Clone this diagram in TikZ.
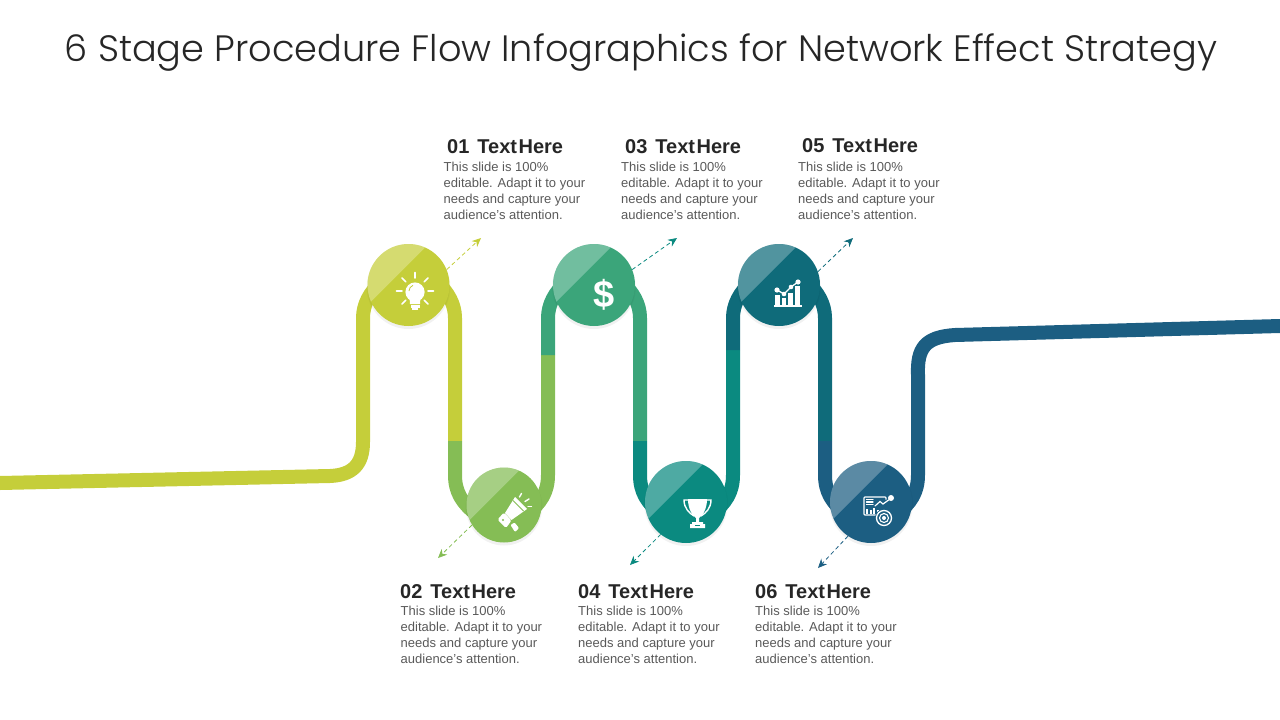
\documentclass[tikz,border=0pt]{standalone}
\usepackage{fontspec}
\setmainfont{Liberation Sans}
\newfontfamily\ttlfont{Poppins Light}
\usetikzlibrary{arrows.meta}
\definecolor{cA}{HTML}{C5CE3A}
\definecolor{cB}{HTML}{85BD55}
\definecolor{cC}{HTML}{3BA57A}
\definecolor{cD}{HTML}{0B8A80}
\definecolor{cE}{HTML}{0F6B7A}
\definecolor{cF}{HTML}{1C5E82}
\definecolor{txtdark}{HTML}{262626}
\definecolor{txtbody}{HTML}{595959}
\tikzset{
 x=1pt,y=-1pt,
 band/.style={line width=14pt,line cap=butt,line join=round},
 disc/.style={circle,minimum size=82pt,inner sep=0pt,fill=#1},
 head/.style={anchor=west,inner sep=0pt,font=\fontsize{20}{20}\selectfont\bfseries,text=txtdark},
 bodytxt/.style={anchor=north west,inner sep=0pt,align=left,text=txtbody,font=\fontsize{13}{16}\selectfont},
 titletxt/.style={inner sep=0pt,font=\fontsize{36.7}{40}\selectfont\ttlfont,text=txtdark},
 leader/.style={dash pattern=on 4pt off 3pt,line width=.8pt,-{Stealth[length=9pt,width=8pt]}},
 ico/.style={fill=white,draw=none},
 icoline/.style={draw=white,fill=none,line width=#1,line cap=round},
}
\newcommand{\HeadTxt}[1]{{\spaceskip=1.5pt #1\hspace{6.5pt} Text Here}}
\newcommand{\BodyTxt}{This slide is 100\%\\editable. Adapt it to your\\needs and capture your\\audience's attention.}
\newcommand{\StageDisc}[6]{% name,x,y,size,colour,scale
 \fill[black,opacity=.025] (#2,#3+2) circle[radius=#4/2+1];
 \fill[black,opacity=.03] (#2,#3+3) circle[radius=#4/2];
 \node[disc=#5,minimum size=#4pt] (#1) at (#2,#3) {};
 \begin{scope}
 \clip (#2,#3) circle[radius=#4/2];
 \fill[white,opacity=.28,shift={(#2,#3)},scale=#6] (-48,27) -- (27,-48) -- (-48,-48) -- cycle;
 \end{scope}
}
% hidden arch over a disc, between verticals at #1 and #2
\newcommand{\ArchTop}[2]{(#1,318) .. controls (#1,304) and (#1+7,292) .. (#1+18,282) -- (#2-18,282) .. controls (#2-7,292) and (#2,304) .. (#2,318)}
\newcommand{\ArchLow}[2]{(#1,475) .. controls (#1,492) and (#1+7,503) .. (#1+21,514) -- (#2-21,514) .. controls (#2-7,503) and (#2,492) .. (#2,475)}
\begin{document}
\begin{tikzpicture}
\useasboundingbox (0,0) rectangle (1280,720);
\node[titletxt] (title) at (641,52.5) {6 Stage Procedure Flow Infographics for Network Effect Strategy};
% ribbon
\draw[band,cA] (0,483) -- (330,476) .. controls (352,475) and (363,465) .. (363,442) -- \ArchTop{363}{455} -- (455,441);
\draw[band,cB] (455,441) -- \ArchLow{455}{548} -- (548,355);
\draw[band,cC] (548,355) -- \ArchTop{548}{640} -- (640,441);
\draw[band,cD] (640,441) -- \ArchLow{640}{733} -- (733,350);
\draw[band,cE] (733,350) -- \ArchTop{733}{825} -- (825,441);
\draw[band,cF] (825,441) -- \ArchLow{825}{918} -- (918,375) .. controls (917,348) and (925,337) .. (955,335) -- (1280,326);
% discs
\StageDisc{c1}{408.5}{285}{82}{cA}{1}
\StageDisc{c2}{504}{505}{75}{cB}{.92}
\StageDisc{c3}{594}{285}{82}{cC}{1}
\StageDisc{c4}{686}{502}{82}{cD}{1}
\StageDisc{c5}{779}{285}{82}{cE}{1}
\StageDisc{c6}{871}{502}{82}{cF}{1}
% leaders
\coordinate (t1) at (481,238);
\coordinate (t2) at (438,558);
\coordinate (t3) at (677,238);
\coordinate (t4) at (630,565);
\coordinate (t5) at (853,238);
\coordinate (t6) at (818,568);
\draw[leader,cA] (c1.22) -- (t1);
\draw[leader,cB] (c2.212) -- (t2);
\draw[leader,cD] (c3.22) -- (t3);
\draw[leader,cD] (c4.232) -- (t4);
\draw[leader,cE] (c5.19) -- (t5);
\draw[leader,cF] (c6.236) -- (t6);
% bulb
\fill[ico] (415,292) circle[radius=9.6];
\fill[ico] (409.5,297) -- (420.5,297) -- (420,304) -- (410,304) -- cycle;
\fill[ico] (410.5,305) rectangle (419.5,307.5);
\fill[ico] (412,308.3) rectangle (418,310);
\draw[cA,line width=.8pt] (409,291) arc[start angle=180,end angle=250,radius=6];
\foreach \a in {0,45,135,180,225,315,270}{
 \draw[icoline=1.6pt,shift={(415,291)}] (\a:13) -- (\a:18.5);
}
% dollar
\node[inner sep=0pt,text=white,font=\fontsize{38}{38}\selectfont\bfseries] (dollar) at (604,295) {\$};
% megaphone
\fill[ico] (515,497) -- (527,509) -- (511.5,520) -- (505,513) -- cycle;
\draw[cB,line width=.9pt] (513,500.5) -- (523.5,511);
\fill[ico,rounded corners=1.5pt] (504,512.5) -- (511.5,520.5) -- (506,528) -- (497.5,519.5) -- cycle;
\fill[cB] (503,520) circle[radius=1.2];
\fill[ico,rounded corners=1pt] (510.5,525) -- (514.5,522.5) -- (519,528) -- (515,532) -- cycle;
\draw[icoline=1.4pt] (519.5,497) -- (521.5,493.5);
\draw[icoline=1.4pt] (525,501.5) -- (529,499);
\draw[icoline=1.4pt] (528,506.5) -- (531.5,506.5);
% trophy
\draw[icoline=1.4pt,line cap=butt] (689,500) -- (684,500) .. controls (684,508) and (689,513) .. (694,516);
\draw[icoline=1.4pt,line cap=butt] (706,500) -- (711,500) .. controls (711,508) and (706,513) .. (701,516);
\fill[ico] (688,499) -- (707,499) .. controls (707,510) and (702,516) .. (699,518) -- (699,522) -- (703,522) -- (703,524) -- (705,524) -- (705,528) -- (690,528) -- (690,524) -- (692,524) -- (692,522) -- (696,522) -- (696,518) .. controls (693,516) and (688,510) .. (688,499) -- cycle;
\fill[cD] (695,524.8) rectangle (700,526);
% chart
\fill[ico] (775,295) rectangle (780,305);
\fill[ico] (782,298) rectangle (786,305);
\fill[ico] (788,293) rectangle (793,305);
\fill[ico] (795,286) rectangle (800,305);
\fill[ico] (774,305.3) rectangle (802,306.8);
\draw[cE,line width=2.6pt] (777,290) -- (784,294) -- (791,287) -- (798,282);
\draw[icoline=1.3pt] (777,290) -- (784,294) -- (791,287) -- (798,282);
\fill[ico] (777,290) circle[radius=2.6];
\fill[ico] (784,294) circle[radius=2.3];
\fill[ico] (791,287) circle[radius=2.3];
\fill[ico] (798,282) circle[radius=2.6];
% dashboard
\draw[white,line width=1.1pt,rounded corners=.8pt] (886,499.5) -- (886,497) -- (864,497) -- (864,515) -- (877,515);
\draw[icoline=1.1pt] (866.5,499.5) -- (873,499.5);
\draw[icoline=1.1pt] (866.5,502) -- (873,502);
\draw[icoline=1.1pt] (866.5,504.5) -- (873,504.5);
\draw[icoline=1.2pt] (875,506) -- (880,501.5) -- (883,504) -- (890,499);
\fill[ico] (891,498) circle[radius=3];
\fill[ico] (866,509) rectangle (868,514);
\fill[ico] (869.5,510) rectangle (871.5,514);
\fill[ico] (873,508) rectangle (875,514);
\fill[ico] (876.5,510) rectangle (878.5,514);
\fill[cF] (884,518) circle[radius=9];
\draw[white,line width=1.3pt] (884,518) circle[radius=7.5];
\draw[white,line width=1.1pt] (884,518) circle[radius=4.5];
\fill[ico] (884,518) circle[radius=2];
% texts
\node[head] (h1) at (447,147) {\HeadTxt{01}};
\node[head] (h3) at (625,147) {\HeadTxt{03}};
\node[head] (h5) at (802,146) {\HeadTxt{05}};
\node[head] (h2) at (400,592) {\HeadTxt{02}};
\node[head] (h4) at (578,592) {\HeadTxt{04}};
\node[head] (h6) at (755,592) {\HeadTxt{06}};
\node[bodytxt] (b1) at (443.5,162) {\BodyTxt};
\node[bodytxt] (b3) at (621,162) {\BodyTxt};
\node[bodytxt] (b5) at (798,162) {\BodyTxt};
\node[bodytxt] (b2) at (400.5,606) {\BodyTxt};
\node[bodytxt] (b4) at (578,606) {\BodyTxt};
\node[bodytxt] (b6) at (755,606) {\BodyTxt};
\end{tikzpicture}
\end{document}
